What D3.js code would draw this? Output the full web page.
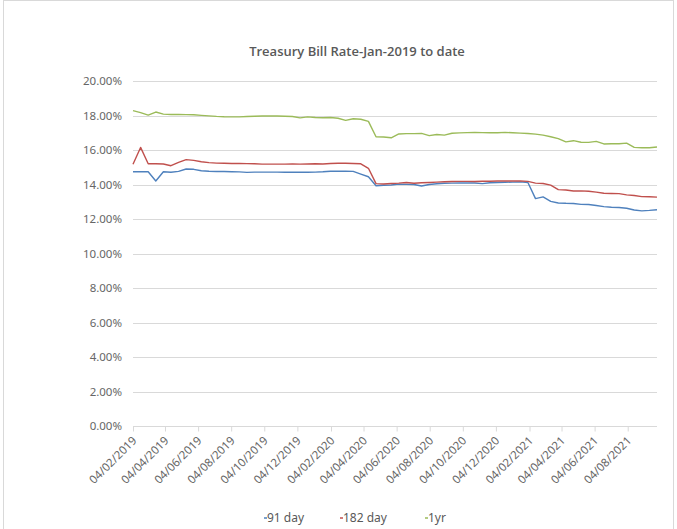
<!DOCTYPE html>
<html lang="en">
<head>
<meta charset="utf-8">
<title>Treasury Bill Rate</title>
<script type="text/javascript" src="https://cdn.jsdelivr.net/npm/d3@7"></script>
<style>
body { margin: 0; background: #ffffff; }
text { font-family: "Noto Sans", "Open Sans", sans-serif; }
</style>
</head>
<body>
<script type="text/javascript">

//DATA (biweekly auction readings, %)
var dates = [
"2019-02-04","2019-02-18","2019-03-04","2019-03-18","2019-04-01","2019-04-15","2019-04-29","2019-05-13","2019-05-27","2019-06-10",
"2019-06-24","2019-07-08","2019-07-22","2019-08-05","2019-08-19","2019-09-02","2019-09-16","2019-09-30","2019-10-14","2019-10-28",
"2019-11-11","2019-11-25","2019-12-09","2019-12-23","2020-01-06","2020-01-20","2020-02-03","2020-02-17","2020-03-02","2020-03-16",
"2020-03-30","2020-04-13","2020-04-27","2020-05-11","2020-05-25","2020-06-08","2020-06-22","2020-07-06","2020-07-20","2020-08-03",
"2020-08-17","2020-08-31","2020-09-14","2020-09-28","2020-10-12","2020-10-26","2020-11-09","2020-11-23","2020-12-07","2020-12-21",
"2021-01-04","2021-01-18","2021-02-01","2021-02-15","2021-03-01","2021-03-15","2021-03-29","2021-04-12","2021-04-26","2021-05-10",
"2021-05-24","2021-06-07","2021-06-21","2021-07-05","2021-07-19","2021-08-02","2021-08-16","2021-08-30","2021-09-13","2021-09-27"
];

var day91 = [
14.74,14.74,14.74,14.20,14.74,14.71,14.76,14.90,14.88,14.80,
14.77,14.75,14.75,14.74,14.73,14.70,14.72,14.72,14.72,14.72,
14.71,14.71,14.72,14.71,14.72,14.74,14.77,14.77,14.77,14.76,
14.60,14.45,13.93,13.96,13.97,14.02,14.01,14.00,13.91,14.00,
14.04,14.07,14.08,14.09,14.09,14.09,14.05,14.10,14.12,14.13,
14.14,14.15,14.12,13.18,13.28,13.02,12.93,12.91,12.90,12.85,
12.84,12.78,12.72,12.68,12.67,12.62,12.52,12.47,12.50,12.54
];

var day182 = [
15.17,16.15,15.20,15.20,15.19,15.09,15.28,15.44,15.40,15.32,
15.27,15.24,15.23,15.22,15.22,15.21,15.20,15.18,15.18,15.18,
15.18,15.19,15.18,15.19,15.20,15.19,15.22,15.23,15.23,15.22,
15.20,14.94,14.05,14.03,14.06,14.08,14.12,14.07,14.10,14.12,
14.14,14.16,14.17,14.18,14.18,14.17,14.19,14.19,14.20,14.20,
14.21,14.20,14.18,14.08,14.06,13.96,13.70,13.68,13.62,13.63,
13.61,13.56,13.49,13.48,13.47,13.40,13.36,13.30,13.29,13.27
];

var yr1 = [
18.28,18.17,18.02,18.20,18.08,18.06,18.06,18.05,18.04,18.01,
17.98,17.95,17.93,17.92,17.92,17.94,17.96,17.97,17.97,17.97,
17.96,17.94,17.86,17.92,17.88,17.87,17.88,17.84,17.72,17.81,
17.78,17.66,16.77,16.75,16.71,16.93,16.95,16.95,16.96,16.83,
16.90,16.86,16.97,16.99,17.01,17.02,17.01,17.00,17.00,17.02,
17.00,16.98,16.96,16.92,16.86,16.77,16.66,16.47,16.54,16.45,
16.44,16.50,16.35,16.36,16.36,16.40,16.15,16.13,16.13,16.17
];

var tickDates = ["04/02/2019","04/04/2019","04/06/2019","04/08/2019","04/10/2019","04/12/2019",
"04/02/2020","04/04/2020","04/06/2020","04/08/2020","04/10/2020","04/12/2020",
"04/02/2021","04/04/2021","04/06/2021","04/08/2021"];
var yTicks = [0, 2, 4, 6, 8, 10, 12, 14, 16, 18, 20];

var seriesNames = ["91 day", "182 day", "1yr"];
var seriesColors = ["#4f81bd", "#c0504d", "#9bbb59"];

//SIZES
var w = 677;
var h = 529;

var parseIso = d3.timeParse("%Y-%m-%d");
var parseTick = d3.timeParse("%d/%m/%Y");
var dateObjs = dates.map(parseIso);

var svg = d3.select("body")
.append("svg")
.attr("width", w)
.attr("height", h);

//chart border
svg.append("rect")
.attr("x", 3.5)
.attr("y", 0.5)
.attr("width", 670)
.attr("height", 540)
.attr("fill", "none")
.attr("stroke", "#d9d9d9");

var x = d3.scaleTime()
.domain([dateObjs[0], dateObjs[dateObjs.length - 1]])
.range([133, 657]);

var y = d3.scaleLinear()
.domain([0, 20])
.range([426, 81]);

//title
svg.append("text")
.attr("x", 357)
.attr("y", 56)
.attr("text-anchor", "middle")
.attr("font-size", "13px")
.attr("font-weight", "600")
.attr("fill", "#595959")
.style("font-family", "'Open Sans', sans-serif")
.text("Treasury Bill Rate-Jan-2019 to date");

//gridlines
svg.selectAll("line.grid")
.data(yTicks.slice(1))
.enter()
.append("line")
.attr("class", "grid")
.attr("x1", 133)
.attr("x2", 657)
.attr("y1", function(d) { return Math.round(y(d)) + 0.5; })
.attr("y2", function(d) { return Math.round(y(d)) + 0.5; })
.attr("stroke", "#d9d9d9")
.attr("stroke-width", 1);

//y axis labels
var yAxis = d3.axisLeft(y)
.tickValues(yTicks)
.tickSize(0)
.tickPadding(11)
.tickFormat(function(d) { return d3.format(".2f")(d) + "%"; });

var gy = svg.append("g")
.attr("transform", "translate(133,0)")
.call(yAxis);
gy.select(".domain").remove();
gy.selectAll("text")
.attr("font-size", "11.5px")
.attr("fill", "#666666")
.style("font-family", "'Noto Sans', sans-serif");

//x axis
var xAxis = d3.axisBottom(x)
.tickValues(tickDates.map(parseTick))
.tickSize(5)
.tickFormat(d3.timeFormat("%d/%m/%Y"));

var gx = svg.append("g")
.attr("transform", "translate(0," + (Math.round(y(0)) + 0.5) + ")")
.call(xAxis);
gx.select(".domain")
.attr("stroke", "#d9d9d9")
.attr("d", "M133,0H657");
gx.selectAll(".tick line").attr("stroke", "#d9d9d9");
gx.selectAll("text")
.attr("font-size", "11.5px")
.attr("fill", "#666666")
.attr("text-anchor", "end")
.attr("x", 0)
.attr("y", 0)
.attr("dx", 0)
.attr("dy", "0.35em")
.attr("transform", "translate(1,12) rotate(-45)")
.style("font-family", "'Noto Sans', sans-serif");

//lines
var allSeries = [day91, day182, yr1];
var line = d3.line()
.x(function(d, i) { return x(dateObjs[i]); })
.y(function(d) { return y(d); });

svg.selectAll("path.series")
.data(allSeries)
.enter()
.append("path")
.attr("class", "series")
.attr("d", line)
.attr("fill", "none")
.attr("stroke", function(d, i) { return seriesColors[i]; })
.attr("stroke-width", 1.4)
.attr("stroke-linejoin", "round");

//legend
var legendX = [264, 340, 425];
var legend = svg.selectAll("g.legend")
.data(seriesNames)
.enter()
.append("g")
.attr("class", "legend")
.attr("transform", function(d, i) { return "translate(" + legendX[i] + ",518)"; });

legend.append("line")
.attr("x1", 0)
.attr("x2", 3)
.attr("y1", 0)
.attr("y2", 0)
.attr("stroke", function(d, i) { return seriesColors[i]; })
.attr("stroke-width", 1.5);

legend.append("text")
.attr("x", 3)
.attr("y", 4)
.attr("font-size", "12px")
.attr("fill", "#595959")
.text(function(d) { return d; });

</script>
</body>
</html>
